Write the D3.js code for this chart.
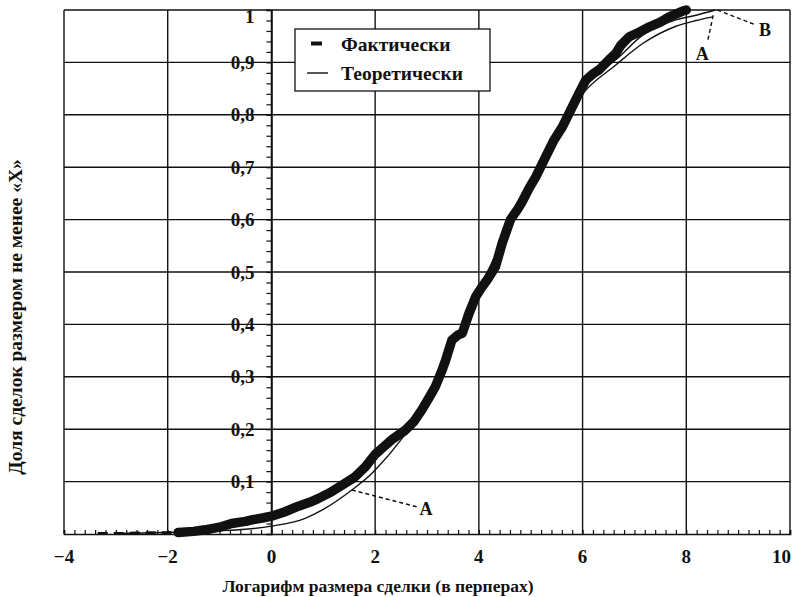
<!DOCTYPE html>
<html>
<head>
<meta charset="utf-8">
<script src="https://cdn.jsdelivr.net/npm/d3@7"></script>
<style>
  html, body { margin: 0; padding: 0; background: #fff; }
  svg { display: block; }
  text { font-family: "Liberation Serif", "DejaVu Serif", serif; font-weight: bold; fill: #111; }
</style>
</head>
<body>
<div id="chart"></div>
<script>
// tick values and labels
const xTicks = [-4, -2, 0, 2, 4, 6, 8, 10];
const xTickLabels = ['\u22124', '\u22122', '0', '2', '4', '6', '8', '10'];
const yTicks = [0.1, 0.2, 0.3, 0.4, 0.5, 0.6, 0.7, 0.8, 0.9, 1];
const yTickLabels = ['0,1', '0,2', '0,3', '0,4', '0,5', '0,6', '0,7', '0,8', '0,9', '1'];

// "Фактически"
const factX = [-1.8, -1.5, -1.28, -1.0, -0.77, -0.5, -0.38, -0.15, 0.0, 0.25, 0.52, 0.75, 0.91,
  1.15, 1.42, 1.6, 1.81, 2.0, 2.15, 2.32, 2.58, 2.75, 2.9, 3.05, 3.16, 3.28, 3.36, 3.48, 3.6, 3.68, 3.81,
  3.94, 4.05, 4.16, 4.32, 4.45, 4.61, 4.75, 4.84, 4.97, 5.1, 5.29, 5.45, 5.61, 5.77, 5.93, 6.06, 6.2, 6.32,
  6.51, 6.64, 6.74, 6.9, 7.1, 7.29, 7.5, 7.67, 7.93, 8.0];
const factY = [0.003, 0.005, 0.008, 0.013, 0.02, 0.024, 0.027, 0.031, 0.034, 0.042, 0.053, 0.061, 0.068,
  0.08, 0.097, 0.108, 0.128, 0.152, 0.165, 0.18, 0.198, 0.215, 0.237, 0.262, 0.281, 0.31, 0.332, 0.37, 0.38, 0.383, 0.421,
  0.453, 0.47, 0.485, 0.51, 0.555, 0.6, 0.62, 0.635, 0.66, 0.682, 0.72, 0.752, 0.777, 0.809, 0.841, 0.866, 0.878, 0.886,
  0.905, 0.917, 0.933, 0.949, 0.958, 0.968, 0.977, 0.987, 0.998, 1.0];

// faint start of the empirical curve along the axis
const tailX = [-3.35, -2.9, -2.6, -1.8];
const tailY = [0.001, 0.001, 0.002, 0.003];

// "Теоретически" – thin curve (ends at A)
const theoryX = [-3.0, -2.0, -1.0, -0.5, 0.0, 0.65, 1.0, 1.55, 1.94, 2.0, 2.5, 3.0, 3.5, 4.0, 4.5, 5.0, 5.5, 6.0,
  6.64, 7.16, 7.8, 8.19, 8.51];
const theoryY = [0.001, 0.003, 0.006, 0.009, 0.015, 0.03, 0.047, 0.084, 0.116, 0.122, 0.18, 0.255, 0.36, 0.465, 0.57,
  0.67, 0.765, 0.84, 0.895, 0.936, 0.969, 0.98, 0.987];

// second thin curve near the top (ends at B)
const upperX = [6.45, 6.64, 7.16, 7.8, 8.19, 8.56];
const upperY = [0.89, 0.905, 0.952, 0.981, 0.99, 1.0];

// annotations: leader line from -> to, label position
const notes = [
  { label: 'A', from: [1.55, 0.084], to: [2.8, 0.052], at: [2.98, 0.037] },
  { label: 'A', from: [8.52, 0.99], to: [8.41, 0.94], at: [8.31, 0.905] },
  { label: 'B', from: [8.6, 1.0], to: [9.35, 0.971], at: [9.52, 0.951] }
];

const width = 792, height = 597;
const margin = { top: 10, right: 2, bottom: 63, left: 64 };

const svg = d3.select('#chart').append('svg')
  .attr('width', width)
  .attr('height', height);

const x = d3.scaleLinear().domain([-4, 10]).range([margin.left, width - margin.right]);
const y = d3.scaleLinear().domain([0, 1]).range([height - margin.bottom, margin.top]);

const grid = svg.append('g').attr('stroke', '#111').attr('stroke-width', 1.4);

// horizontal grid
grid.selectAll('.hg')
  .data(yTicks)
  .join('line')
  .attr('x1', x(-4)).attr('x2', x(10))
  .attr('y1', d => y(d)).attr('y2', d => y(d));

// vertical grid
grid.selectAll('.vg')
  .data(xTicks)
  .join('line')
  .attr('y1', y(0)).attr('y2', y(1))
  .attr('x1', d => x(d)).attr('x2', d => x(d));

// x axis along y = 0
const xAxis = d3.axisBottom(x)
  .tickValues(d3.range(-4, 10.01, 0.2))
  .tickSize(-4)
  .tickFormat('');
svg.append('g')
  .attr('transform', `translate(0,${y(0)})`)
  .call(xAxis)
  .call(g => g.select('.domain').attr('stroke', '#111').attr('stroke-width', 1.7))
  .call(g => g.selectAll('.tick line').attr('stroke', '#111').attr('stroke-width', 1.2));

// y axis crossing at x = 0
const yAxis = d3.axisLeft(y)
  .tickValues(d3.range(0, 1.001, 0.02))
  .tickSize(5)
  .tickFormat('');
svg.append('g')
  .attr('transform', `translate(${x(0)},0)`)
  .call(yAxis)
  .call(g => g.select('.domain').attr('stroke', '#111').attr('stroke-width', 1.7))
  .call(g => g.selectAll('.tick line').attr('stroke', '#111').attr('stroke-width', 1.2));

// tick labels
svg.append('g').selectAll('text')
  .data(xTicks)
  .join('text')
  .attr('x', (d, i) => i === xTicks.length - 1 ? width - 1 : x(d))
  .attr('y', y(0) + 29)
  .attr('text-anchor', (d, i) => i === xTicks.length - 1 ? 'end' : 'middle')
  .attr('font-size', 19)
  .text((d, i) => xTickLabels[i]);

svg.append('g').selectAll('text')
  .data(yTicks)
  .join('text')
  .attr('x', x(0) - 17)
  .attr('y', d => d === 1 ? y(d) + 13 : y(d) + 6.5)
  .attr('text-anchor', 'end')
  .attr('font-size', 19)
  .text((d, i) => yTickLabels[i]);

// curves
const line = d3.line().x(d => x(d[0])).y(d => y(d[1]));
const pairs = (xs, ys) => xs.map((v, i) => [v, ys[i]]);

svg.append('path')
  .datum(pairs(theoryX, theoryY))
  .attr('fill', 'none')
  .attr('stroke', '#111')
  .attr('stroke-width', 1.4)
  .attr('d', line.curve(d3.curveMonotoneX));

svg.append('path')
  .datum(pairs(upperX, upperY))
  .attr('fill', 'none')
  .attr('stroke', '#111')
  .attr('stroke-width', 1.4)
  .attr('d', line.curve(d3.curveMonotoneX));

svg.append('path')
  .datum(pairs(tailX, tailY))
  .attr('fill', 'none')
  .attr('stroke', '#111')
  .attr('stroke-width', 3)
  .attr('stroke-dasharray', '10,6')
  .attr('d', line.curve(d3.curveLinear));

svg.append('path')
  .datum(pairs(factX, factY))
  .attr('fill', 'none')
  .attr('stroke', '#111')
  .attr('stroke-width', 9.5)
  .attr('stroke-linejoin', 'round')
  .attr('stroke-linecap', 'round')
  .attr('d', line.curve(d3.curveLinear));

// annotations
const ann = svg.append('g');
ann.selectAll('line')
  .data(notes)
  .join('line')
  .attr('x1', d => x(d.from[0])).attr('y1', d => y(d.from[1]))
  .attr('x2', d => x(d.to[0])).attr('y2', d => y(d.to[1]))
  .attr('stroke', '#111')
  .attr('stroke-width', 1.4)
  .attr('stroke-dasharray', '4,3');
ann.selectAll('text')
  .data(notes)
  .join('text')
  .attr('x', d => x(d.at[0]))
  .attr('y', d => y(d.at[1]))
  .attr('text-anchor', 'middle')
  .attr('font-size', 18)
  .text(d => d.label);

// legend
const legend = svg.append('g').attr('transform', 'translate(295,29)');
legend.append('rect')
  .attr('width', 195).attr('height', 62)
  .attr('fill', '#fff')
  .attr('stroke', '#111')
  .attr('stroke-width', 1.3);
legend.append('line')
  .attr('x1', 16).attr('x2', 27).attr('y1', 14.5).attr('y2', 14.5)
  .attr('stroke', '#111').attr('stroke-width', 4);
legend.append('line')
  .attr('x1', 12).attr('x2', 33).attr('y1', 44).attr('y2', 44)
  .attr('stroke', '#111').attr('stroke-width', 1.4);
legend.append('text').attr('x', 46).attr('y', 22).attr('font-size', 19.5).text('Фактически');
legend.append('text').attr('x', 46).attr('y', 51).attr('font-size', 19.5).text('Теоретически');

// axis titles
svg.append('text')
  .attr('x', 378)
  .attr('y', 592)
  .attr('text-anchor', 'middle')
  .attr('font-size', 17.5)
  .text('Логарифм размера сделки (в перперах)');

svg.append('text')
  .attr('transform', 'translate(22,317) rotate(-90)')
  .attr('text-anchor', 'middle')
  .attr('font-size', 19.5)
  .text('Доля сделок размером не менее «Х»');
</script>
</body>
</html>
